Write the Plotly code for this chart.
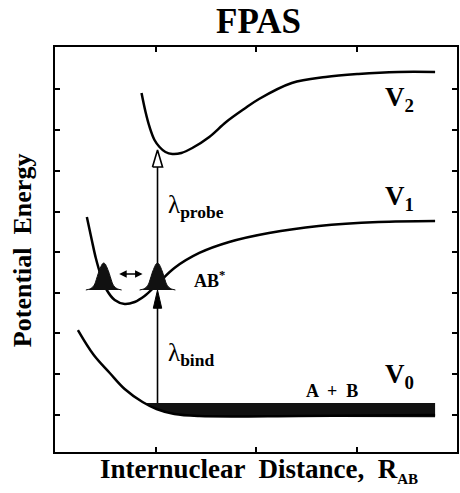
import plotly.graph_objects as go

# ---- data (schematic potential curves) ----
v2_x = [0.861, 0.901, 0.941, 0.990, 1.040, 1.099, 1.168, 1.257, 1.366, 1.535, 1.703, 1.881, 2.030, 2.356, 2.693, 3.020, 3.416, 3.782]
v2_y = [8.864, 8.395, 8.025, 7.704, 7.531, 7.407, 7.358, 7.383, 7.506, 7.778, 8.148, 8.469, 8.716, 9.111, 9.259, 9.333, 9.383, 9.383]

v1_x = [0.317, 0.366, 0.406, 0.455, 0.515, 0.594, 0.693, 0.792, 0.891, 1.010, 1.188, 1.436, 1.733, 2.129, 2.624, 3.218, 3.782]
v1_y = [5.802, 5.235, 4.790, 4.370, 4.000, 3.753, 3.654, 3.704, 3.852, 4.123, 4.543, 4.914, 5.185, 5.407, 5.580, 5.679, 5.704]

v0_x = [0.228, 0.386, 0.545, 0.693, 0.871, 1.010, 1.188, 1.436, 2.426, 3.782]
v0_y = [3.012, 2.395, 1.951, 1.556, 1.235, 1.062, 0.938, 0.889, 0.889, 0.914]

band_x = [0.871, 1.010, 1.188, 1.436, 2.426, 3.782]
band_bottom = [1.235, 1.062, 0.938, 0.880, 0.870, 0.860]
band_top = 1.21

packet_centers = [0.485, 1.02]
packet_base = 4.0
packet_dx = [-0.178, -0.139, -0.109, -0.089, -0.069, -0.050, -0.030, -0.015, 0.0,
             0.015, 0.030, 0.050, 0.069, 0.089, 0.109, 0.139, 0.178]
packet_h = [0.0, 0.025, 0.074, 0.148, 0.296, 0.444, 0.568, 0.642, 0.667,
            0.642, 0.568, 0.444, 0.296, 0.148, 0.074, 0.025, 0.0]

transition_x = 1.02
bind_from, bind_to = 1.21, 4.0
probe_from, probe_to = 4.667, 7.457
osc_y, osc_x0, osc_x1 = 4.395, 0.624, 0.871

y_ticks = [0.92, 1.93, 2.94, 3.93, 4.94, 5.93, 6.94, 7.95, 8.96]
x_ticks = [1, 2, 3]

SERIF = "Liberation Serif"
BLACK = "#000000"

fig = go.Figure()

# thermal band on V0
fig.add_trace(go.Scatter(x=band_x, y=[band_top] * len(band_x), mode="lines",
                         line=dict(width=0, color="#111"), hoverinfo="skip", showlegend=False))
fig.add_trace(go.Scatter(x=band_x, y=band_bottom, mode="lines", fill="tonexty",
                         fillcolor="#111", line=dict(width=0, color="#111", shape="spline"),
                         hoverinfo="skip", showlegend=False))

for xs, ys in [(v0_x, v0_y), (v1_x, v1_y), (v2_x, v2_y)]:
    fig.add_trace(go.Scatter(x=xs, y=ys, mode="lines",
                             line=dict(color=BLACK, width=2.5, shape="spline", smoothing=1.0),
                             hoverinfo="skip", showlegend=False))

# wave packets
for c in packet_centers:
    fig.add_trace(go.Scatter(x=[c + d for d in packet_dx], y=[packet_base + h for h in packet_h],
                             mode="lines", fill="toself", fillcolor="#111",
                             line=dict(color="#111", width=1.0, shape="spline", smoothing=0.6),
                             hoverinfo="skip", showlegend=False))

# arrow shafts
fig.add_trace(go.Scatter(x=[transition_x, transition_x], y=[bind_from, bind_to - 0.4], mode="lines",
                         line=dict(color=BLACK, width=1.6), hoverinfo="skip", showlegend=False))
fig.add_trace(go.Scatter(x=[transition_x, transition_x], y=[probe_from, probe_to - 0.42], mode="lines",
                         line=dict(color=BLACK, width=1.6), hoverinfo="skip", showlegend=False))
# bind head (filled)
hw, hl = 0.042, 0.45
fig.add_trace(go.Scatter(x=[transition_x - hw, transition_x, transition_x + hw, transition_x - hw],
                         y=[bind_to - hl, bind_to, bind_to - hl, bind_to - hl],
                         mode="lines", fill="toself", fillcolor=BLACK, line=dict(color=BLACK, width=1),
                         hoverinfo="skip", showlegend=False))
# probe head (open)
hw, hl = 0.05, 0.42
fig.add_trace(go.Scatter(x=[transition_x - hw, transition_x, transition_x + hw, transition_x - hw],
                         y=[probe_to - hl, probe_to, probe_to - hl, probe_to - hl],
                         mode="lines", fill="toself", fillcolor="white", line=dict(color=BLACK, width=1.6),
                         hoverinfo="skip", showlegend=False))

annotations = [
    # oscillation double arrow
    dict(x=osc_x1, y=osc_y, ax=osc_x0, ay=osc_y, xref="x", yref="y", axref="x", ayref="y",
         text="", showarrow=True, arrowhead=2, arrowside="end+start", arrowsize=1.0,
         arrowwidth=1.5, arrowcolor=BLACK),
    dict(x=3.267, y=8.72, xref="x", yref="y", xanchor="left", yanchor="middle", showarrow=False,
         text="<b>V<sub>2</sub></b>", font=dict(family=SERIF, size=27, color=BLACK)),
    dict(x=3.267, y=6.27, xref="x", yref="y", xanchor="left", yanchor="middle", showarrow=False,
         text="<b>V<sub>1</sub></b>", font=dict(family=SERIF, size=27, color=BLACK)),
    dict(x=3.267, y=1.88, xref="x", yref="y", xanchor="left", yanchor="middle", showarrow=False,
         text="<b>V<sub>0</sub></b>", font=dict(family=SERIF, size=27, color=BLACK)),
    dict(x=1.10, y=6.07, xref="x", yref="y", xanchor="left", yanchor="middle", showarrow=False,
         text="λ<sub><b>probe</b></sub>", font=dict(family=SERIF, size=25, color=BLACK)),
    dict(x=1.10, y=2.40, xref="x", yref="y", xanchor="left", yanchor="middle", showarrow=False,
         text="λ<sub><b>bind</b></sub>", font=dict(family=SERIF, size=25, color=BLACK)),
    dict(x=1.366, y=4.25, xref="x", yref="y", xanchor="left", yanchor="middle", showarrow=False,
         text="<b>AB<sup>*</sup></b>", font=dict(family=SERIF, size=18, color=BLACK)),
    dict(x=2.475, y=1.51, xref="x", yref="y", xanchor="left", yanchor="middle", showarrow=False,
         text="<b>A  +  B</b>", font=dict(family=SERIF, size=18, color=BLACK)),
    dict(x=0.507, y=1.062, xref="paper", yref="paper", xanchor="center", yanchor="middle", showarrow=False,
         text="<b>FPAS</b>", font=dict(family=SERIF, size=35, color=BLACK)),
    dict(x=0.507, y=-0.046, xref="paper", yref="paper", xanchor="center", yanchor="middle", showarrow=False,
         text="<b>Internuclear  Distance,  R<sub><span style='font-size:15px'>AB</span></sub></b>",
         font=dict(family=SERIF, size=27, color=BLACK)),
    dict(x=-0.079, y=0.499, xref="paper", yref="paper", xanchor="center", yanchor="middle", showarrow=False,
         textangle=-90, text="<b>Potential  Energy</b>", font=dict(family=SERIF, size=26, color=BLACK)),
]

axis_common = dict(showline=True, linecolor=BLACK, linewidth=2, mirror="ticks", ticks="inside",
                   ticklen=5, tickwidth=1.5, tickcolor=BLACK, showticklabels=False,
                   showgrid=False, zeroline=False, fixedrange=True)

fig.update_layout(
    width=460, height=493,
    margin=dict(l=55, r=1, t=47, b=41),
    paper_bgcolor="white", plot_bgcolor="white",
    xaxis=dict(range=[0, 4], tickvals=x_ticks, **axis_common),
    yaxis=dict(range=[0, 10], tickvals=y_ticks, **axis_common),
    annotations=annotations,
    showlegend=False,
)

fig.write_html("out.html")
